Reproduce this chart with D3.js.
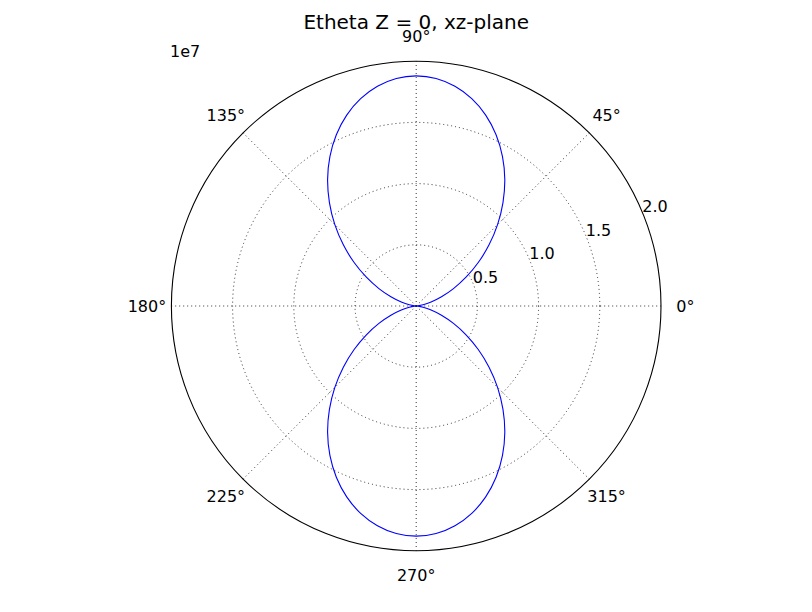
<!DOCTYPE html>
<html><head><meta charset="utf-8">
<script src="https://cdn.jsdelivr.net/npm/d3@7"></script>
<style>body{margin:0;background:#fff}svg{display:block}text{font-family:"DejaVu Sans",sans-serif}</style>
</head><body>
<script>
// Data: angle in degrees, radius in units of 1e7
const angles = d3.range(0, 361, 5);
const radii = [0,0.014,0.057,0.126,0.220,0.336,0.470,0.619,0.777,0.940,1.103,1.262,1.410,1.544,1.660,1.754,1.823,1.866,1.880,
  1.866,1.823,1.754,1.660,1.544,1.410,1.262,1.103,0.940,0.777,0.619,0.470,0.336,0.220,0.126,0.057,0.014,0,
  0.014,0.057,0.126,0.220,0.336,0.470,0.619,0.777,0.940,1.103,1.262,1.410,1.544,1.660,1.754,1.823,1.866,1.880,
  1.866,1.823,1.754,1.660,1.544,1.410,1.262,1.103,0.940,0.777,0.619,0.470,0.336,0.220,0.126,0.057,0.014,0];
const radialTicks = [0.5, 1.0, 1.5, 2.0];
const radialTickLabels = ["0.5", "1.0", "1.5", "2.0"];
const angleTicks = [0, 45, 90, 135, 180, 225, 270, 315];
const angleTickLabels = ["0°", "45°", "90°", "135°", "180°", "225°", "270°", "315°"];
const title = "Etheta Z = 0, xz-plane";
const offsetLabel = "1e7";

const W = 812, H = 612;
const cx = 416.2, cy = 306, R = 244.8;
const svg = d3.select("body").append("svg").attr("width", W).attr("height", H);
const r = d3.scaleLinear().domain([0, 2.0]).range([0, R]);
const g = svg.append("g").attr("transform", `translate(${cx},${cy})`);
const rad = d => d * Math.PI / 180;

// grid circles
g.selectAll("circle.grid").data(radialTicks.slice(0, -1)).join("circle")
  .attr("r", d => r(d)).attr("fill", "none").attr("stroke", "#000")
  .attr("stroke-width", 0.8).attr("stroke-dasharray", "1,3");
// spokes
g.selectAll("line.spoke").data(angleTicks).join("line")
  .attr("x1", 0).attr("y1", 0)
  .attr("x2", d => R * Math.cos(rad(d))).attr("y2", d => -R * Math.sin(rad(d)))
  .attr("stroke", "#000").attr("stroke-width", 0.8).attr("stroke-dasharray", "1,3");

// data line
const pts = angles.map((a, i) => ({a, r: radii[i]}));
const line = d3.lineRadial().angle(d => Math.PI / 2 - rad(d.a)).radius(d => r(d.r)).curve(d3.curveCatmullRom);
g.append("path").datum(pts).attr("d", line).attr("fill", "none").attr("stroke", "#0000ff").attr("stroke-width", 1.1);

// outer circle
g.append("circle").attr("r", r(2.0)).attr("fill", "none").attr("stroke", "#000").attr("stroke-width", 1.1);

// angle labels
g.selectAll("text.ang").data(angleTicks).join("text")
  .attr("x", d => 1.1 * R * Math.cos(rad(d)))
  .attr("y", d => -1.1 * R * Math.sin(rad(d)))
  .attr("dy", "0.36em").attr("text-anchor", "middle").attr("font-size", 16)
  .text((d, i) => angleTickLabels[i]);

// radial labels
g.selectAll("text.rad").data(radialTicks).join("text")
  .attr("x", d => r(d) * Math.cos(rad(22.5)))
  .attr("y", d => -r(d) * Math.sin(rad(22.5)))
  .attr("dy", "0em").attr("font-size", 16)
  .text((d, i) => radialTickLabels[i]);

svg.append("text").attr("x", 170).attr("y", 57).attr("font-size", 16).text(offsetLabel);
svg.append("text").attr("x", cx).attr("y", 29).attr("text-anchor", "middle").attr("font-size", 20).text(title);
</script>
</body></html>
